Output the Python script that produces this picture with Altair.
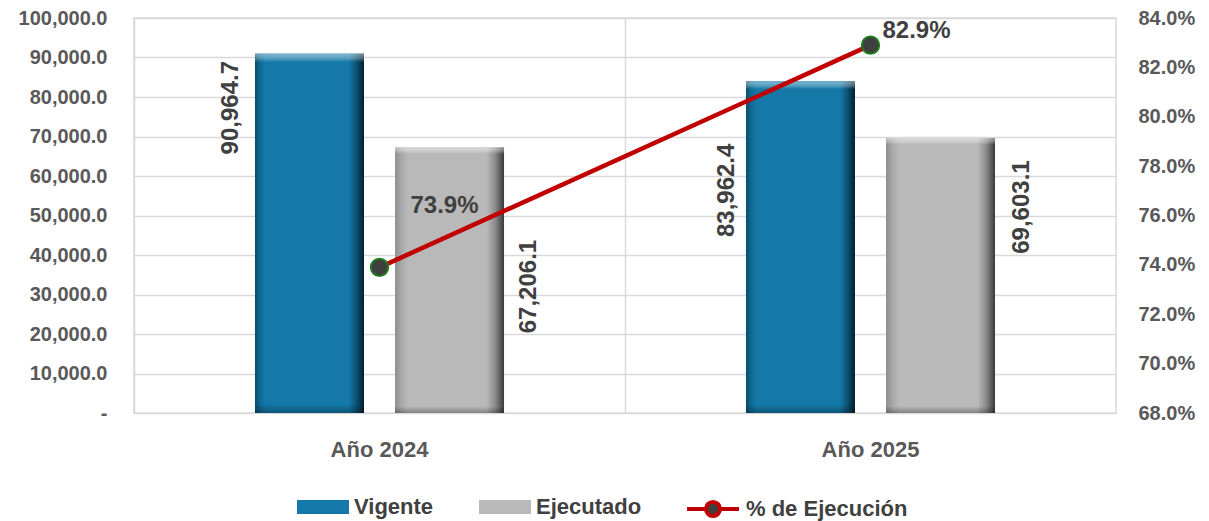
import altair as alt
import pandas as pd

# ---------------- data ----------------
years = ["Año 2024", "Año 2025"]
vigente = [90964.7, 83962.4]
ejecutado = [67206.1, 69603.1]
pct_ejecucion = [0.739, 0.829]
bar_series = ["Vigente", "Ejecutado"]
line_series = ["% de Ejecución"]
left_ticks = [0, 10000, 20000, 30000, 40000, 50000, 60000, 70000, 80000, 90000, 100000]
right_ticks = [0.68, 0.70, 0.72, 0.74, 0.76, 0.78, 0.80, 0.82, 0.84]

bars_df = pd.DataFrame({
    "year": years * 2,
    "serie": [bar_series[0]] * len(years) + [bar_series[1]] * len(years),
    "value": vigente + ejecutado,
})
line_df = pd.DataFrame({
    "year": years,
    "serie": line_series * len(years),
    "pct": pct_ejecucion,
})

# ---------------- style ----------------
FONT = "Liberation Sans"
BLUE = "#1479a8"
GRAY = "#b9b9b9"
RED = "#c00000"
AXIS_TXT = "#595959"
LBL_TXT = "#404040"
GRID = "#d9d9d9"

x_enc = alt.X(
    "year:N",
    scale=alt.Scale(domain=years, paddingInner=0, paddingOuter=0),
    axis=alt.Axis(title=None, labelAngle=0, grid=True, bandPosition=0, gridColor=GRID,
                  gridWidth=1.5, domain=False, ticks=False, labelPadding=26,
                  labelFont=FONT, labelFontSize=22, labelFontWeight="bold",
                  labelColor=AXIS_TXT),
)
xoff_enc = alt.XOffset(
    "serie:N",
    scale=alt.Scale(domain=bar_series, paddingInner=0.2214, paddingOuter=0.864),
)
y_left = alt.Y(
    "value:Q",
    scale=alt.Scale(domain=[0, 100000], nice=False),
    axis=alt.Axis(orient="left", title=None, values=left_ticks, grid=True, gridColor=GRID,
                  gridWidth=1.5, domain=False, ticks=False, labelPadding=27,
                  labelExpr="datum.value == 0 ? '-\u00a0\u00a0' : format(datum.value, ',.1f')",
                  labelFont=FONT, labelFontSize=20, labelFontWeight="bold",
                  labelColor=AXIS_TXT),
)
y_right = alt.Y(
    "pct:Q",
    scale=alt.Scale(domain=[0.68, 0.84], nice=False, zero=False),
    axis=alt.Axis(orient="right", title=None, values=right_ticks, format=".1%", grid=False,
                  domain=False, ticks=False, labelPadding=22,
                  labelFont=FONT, labelFontSize=20, labelFontWeight="bold",
                  labelColor=AXIS_TXT),
)

rect_path = "M-1,-0.27H1V0.27H-1Z"
line_path = "M-1,0H-0.27A0.27,0.27 0 1,1 0.27,0A0.27,0.27 0 1,1 -0.27,0ZM0.27,0H1"

bar_legend = alt.Legend(
    orient="none", legendX=163, legendY=463, direction="horizontal", title=None,
    symbolType=rect_path, symbolSize=2704, symbolStrokeWidth=0, labelFont=FONT,
    labelFontSize=22, labelFontWeight="bold", labelColor=LBL_TXT, columnPadding=45,
    labelOffset=5, labelLimit=300,
)
line_legend = alt.Legend(
    orient="none", legendX=551, legendY=463, direction="horizontal", title=None,
    symbolType=line_path, symbolSize=2704, symbolStrokeWidth=4, symbolFillColor="#3f3f3f",
    labelFont=FONT, labelFontSize=22, labelFontWeight="bold", labelColor=LBL_TXT,
    labelOffset=5, labelLimit=300,
)
color_enc = alt.Color("serie:N", scale=alt.Scale(domain=bar_series, range=[BLUE, GRAY]),
                      legend=bar_legend)
stroke_enc = alt.Stroke("serie:N", scale=alt.Scale(domain=line_series, range=[RED]),
                        legend=line_legend)

def grad(stops, vertical=False):
    return alt.Gradient(gradient="linear", x1=0, x2=0 if vertical else 1, y1=0,
                        y2=1 if vertical else 0,
                        stops=[alt.GradientStop(offset=o, color=c) for o, c in stops])

blue_grad = grad([(0, "#0b4d6d"), (0.05, "#0f6a94"), (0.1, BLUE), (0.86, BLUE),
                  (0.93, "#0c5274"), (1, "#03202e")])
gray_grad = grad([(0, "#8f8f8f"), (0.06, "#a8a8a8"), (0.12, GRAY), (0.84, GRAY),
                  (0.92, "#8a8a8a"), (1, "#3a3a3a")])
bevel_grad = grad([(0, "rgba(255,255,255,0.45)"), (0.012, "rgba(255,255,255,0.3)"),
                   (0.024, "rgba(255,255,255,0.0)"), (0.975, "rgba(0,0,0,0.0)"),
                   (1, "rgba(0,0,0,0.3)")], vertical=True)

base_bars = alt.Chart(bars_df)
bars = base_bars.mark_bar().encode(x=x_enc, xOffset=xoff_enc, y=y_left, color=color_enc)
bars_blue = base_bars.mark_bar(fill=blue_grad).encode(x=x_enc, xOffset=xoff_enc, y=y_left).transform_filter(
    alt.datum.serie == bar_series[0])
bars_gray = base_bars.mark_bar(fill=gray_grad).encode(x=x_enc, xOffset=xoff_enc, y=y_left).transform_filter(
    alt.datum.serie == bar_series[1])
bars_bevel = base_bars.mark_bar(fill=bevel_grad).encode(x=x_enc, xOffset=xoff_enc, y=y_left)

def bar_label(year, serie, dx, dy):
    return base_bars.mark_text(
        angle=270, align="center", baseline="middle", dx=dx, dy=dy, font=FONT,
        fontSize=24, fontWeight="bold", color=LBL_TXT,
    ).encode(
        x=x_enc, xOffset=xoff_enc, y=y_left, text=alt.Text("value:Q", format=",.1f")
    ).transform_filter((alt.datum.year == year) & (alt.datum.serie == serie))

bar_labels = [
    bar_label(years[0], bar_series[0], -54, -78),
    bar_label(years[0], bar_series[1], -139, 79),
    bar_label(years[1], bar_series[0], -109, -73),
    bar_label(years[1], bar_series[1], -69, 81),
]

base_line = alt.Chart(line_df)
line = base_line.mark_line(strokeWidth=4.5).encode(x=x_enc, y=y_right, stroke=stroke_enc)
points = base_line.mark_point(shape="circle", filled=True, fill="#3f3f3f", stroke="#1f7a1f",
                              strokeWidth=2, size=300, opacity=1).encode(x=x_enc, y=y_right)

def pct_label(year, dx, dy):
    return base_line.mark_text(
        align="center", baseline="middle", dx=dx, dy=dy, font=FONT, fontSize=24,
        fontWeight="bold", color=LBL_TXT,
    ).encode(x=x_enc, y=y_right, text=alt.Text("pct:Q", format=".1%")).transform_filter(
        alt.datum.year == year)

pct_labels = [pct_label(years[0], 65, -61), pct_label(years[1], 46, -14)]

left = alt.layer(bars, bars_blue, bars_gray, bars_bevel, *bar_labels)
right = alt.layer(line, points, *pct_labels)

chart = alt.layer(left, right).resolve_scale(y="independent").properties(
    width=982, height=395, padding={"left": 10, "top": 0, "right": 5, "bottom": 5}
).configure_view(stroke=GRID, strokeWidth=1.5)

chart.save("out.html", embed_options={"renderer": "svg", "actions": False})
